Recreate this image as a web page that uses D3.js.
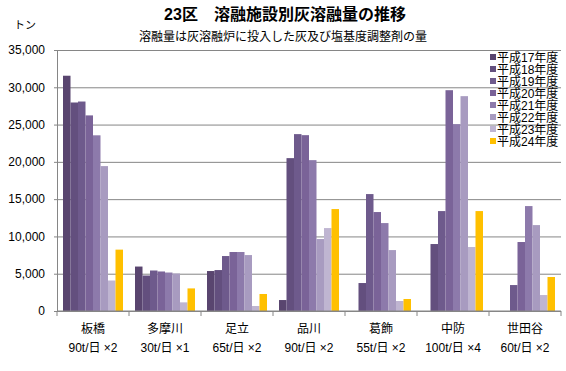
<!DOCTYPE html>
<html>
<head>
<meta charset="utf-8">
<script src="https://cdn.jsdelivr.net/npm/d3@7"></script>
<style>
  body { margin: 0; background: #fff; }
  svg { display: block; font-family: "Liberation Sans", Arial, "Noto Sans CJK JP", sans-serif; }
</style>
</head>
<body>
<div id="container"></div>
<script>
// categories (facility) and capacity line under each name
const categories = ['板橋', '多摩川', '足立', '品川', '葛飾', '中防', '世田谷'];
const capacities = ['90t/日 ×2', '30t/日 ×1', '65t/日 ×2', '90t/日 ×2', '55t/日 ×2', '100t/日 ×4', '60t/日 ×2'];

// fiscal years (series)
const years = ['平成17年度', '平成18年度', '平成19年度', '平成20年度', '平成21年度', '平成22年度', '平成23年度', '平成24年度'];

// tons per year, in category order (null = no bar)
const h17 = [31550, 5960, 5360, 1470, null, null, null];
const h18 = [27960, 4760, 5490, 20500, 3750, 8980, null];
const h19 = [28090, 5430, 7370, 23720, 15680, 13400, 3480];
const h20 = [26230, 5300, 7910, 23580, 13270, 29610, 9250];
const h21 = [23560, 5160, 7910, 20230, 11790, 25060, 14070];
const h22 = [19430, 5030, 7500, 9650, 8170, 28810, 11520];
const h23 = [4090, 1160, 670, 11120, 1340, 8580, 2140];
const h24 = [8230, 3030, 2280, 13670, 1610, 13400, 4560];

const yTicks = [0, 5000, 10000, 15000, 20000, 25000, 30000, 35000];

const series = [h17, h18, h19, h20, h21, h22, h23, h24];
const colors = ['#59456f', '#634f7e', '#6e5a8c', '#7a6398', '#8d7aab', '#a89bc0', '#bfb5d1', '#ffc000'];

const width = 566;
const height = 371;
const plot = { left: 57, right: 561, top: 50, bottom: 311 };

const svg = d3.select('#container').append('svg')
    .attr('width', width)
    .attr('height', height);

//Title
svg.append('text')
    .attr('x', 285)
    .attr('y', 20)
    .attr('text-anchor', 'middle')
    .style('font-size', '16px')
    .style('font-weight', 'bold')
    .text('23区　溶融施設別灰溶融量の推移');

//Subtitle
svg.append('text')
    .attr('x', 283)
    .attr('y', 41)
    .attr('text-anchor', 'middle')
    .style('font-size', '12px')
    .text('溶融量は灰溶融炉に投入した灰及び塩基度調整剤の量');

//Unit
svg.append('text')
    .attr('x', 14)
    .attr('y', 29)
    .style('font-size', '11px')
    .text('トン');

//Scales
const x0 = d3.scaleBand()
    .domain(categories)
    .range([plot.left, plot.right])
    .padding(0);

const x1 = d3.scaleBand()
    .domain(years)
    .range([6, x0.bandwidth() - 6])
    .padding(0);

const y = d3.scaleLinear()
    .domain([0, 35000])
    .range([plot.bottom, plot.top]);

//Gridlines
svg.append('g')
    .attr('transform', 'translate(' + plot.left + ',0)')
    .call(d3.axisLeft(y).tickValues(yTicks).tickSize(-(plot.right - plot.left)).tickFormat(''))
    .call(g => g.select('.domain').remove())
    .call(g => g.selectAll('line').attr('stroke', '#868686').attr('x1', -3));

//Y-Axis
svg.append('g')
    .attr('transform', 'translate(' + plot.left + ',0)')
    .call(d3.axisLeft(y).tickValues(yTicks).tickSize(0).tickPadding(12).tickFormat(d3.format(',')))
    .call(g => g.select('.domain').attr('stroke', '#868686'))
    .call(g => g.selectAll('text').style('font-size', '12px').attr('fill', '#000'));

//Bars
years.forEach((yr, i) => {
    svg.append('g')
        .selectAll('rect')
        .data(series[i].map((v, j) => ({ cat: categories[j], v: v })).filter(d => d.v != null))
        .enter()
        .append('rect')
        .attr('x', d => x0(d.cat) + x1(yr))
        .attr('y', d => y(d.v))
        .attr('width', x1.bandwidth())
        .attr('height', d => y(0) - y(d.v))
        .attr('fill', colors[i]);
});

//X-Axis baseline and group ticks
svg.append('line')
    .attr('x1', plot.left).attr('x2', plot.right)
    .attr('y1', y(0)).attr('y2', y(0))
    .attr('stroke', '#868686');

const bounds = categories.map(c => x0(c)).concat([x0.range()[1]]);
svg.selectAll('.xtick')
    .data(bounds)
    .enter()
    .append('line')
    .attr('class', 'xtick')
    .attr('x1', d => d).attr('x2', d => d)
    .attr('y1', y(0)).attr('y2', y(0) + 5)
    .attr('stroke', '#868686');

//Category labels
const labels = svg.selectAll('.cat')
    .data(categories)
    .enter()
    .append('g')
    .attr('class', 'cat')
    .attr('transform', d => 'translate(' + (x0(d) + x0.bandwidth() / 2) + ',0)');

labels.append('text')
    .attr('y', 333)
    .attr('text-anchor', 'middle')
    .style('font-size', '12px')
    .text(d => d);

labels.append('text')
    .attr('y', 352)
    .attr('text-anchor', 'middle')
    .style('font-size', '12px')
    .text((d, i) => capacities[i]);

//Legend
const legend = svg.selectAll('.legend')
    .data(years)
    .enter()
    .append('g')
    .attr('class', 'legend')
    .attr('transform', (d, i) => 'translate(490,' + (57 + i * 12) + ')');

legend.append('rect')
    .attr('x', 0).attr('y', -3)
    .attr('width', 6).attr('height', 6)
    .attr('fill', (d, i) => colors[i]);

legend.append('text')
    .attr('x', 7)
    .attr('y', 4.5)
    .style('font-size', '12px')
    .text(d => d);
</script>
</body>
</html>
